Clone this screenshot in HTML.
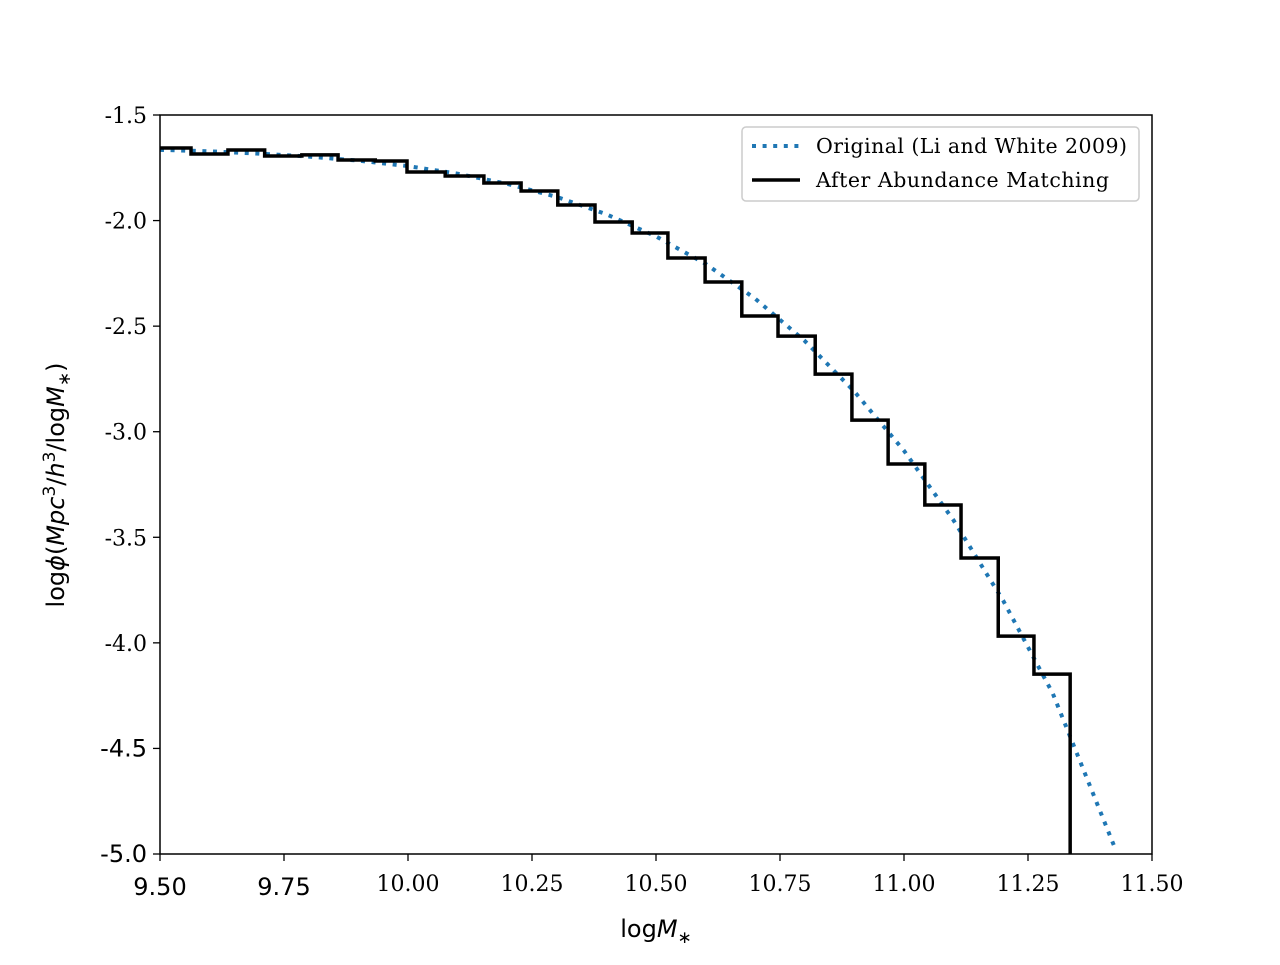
<!DOCTYPE html>
<html><head><meta charset="utf-8"><style>
body{margin:0;background:#fff}
svg text{font-family:"DejaVu Serif","Liberation Serif",serif;font-size:22px}
svg text.sans{font-family:"DejaVu Sans","Liberation Sans",sans-serif;font-size:24px}
</style></head><body>
<svg id="chart" width="1280" height="960" xmlns="http://www.w3.org/2000/svg"></svg>
<script>
const xTicks=[9.5,9.75,10,10.25,10.5,10.75,11,11.25,11.5];
const xTickLabels=["9.50","9.75","10.00","10.25","10.50","10.75","11.00","11.25","11.50"];
const xTickSans=[true,true,false,false,false,false,false,false,false];
const yTicks=[-1.5,-2,-2.5,-3,-3.5,-4,-4.5,-5];
const yTickLabels=["-1.5","-2.0","-2.5","-3.0","-3.5","-4.0","-4.5","-5.0"];
const yTickSans=[false,false,false,false,false,false,true,true];
const binEdges=[9.5,9.5625,9.637,9.711,9.786,9.859,9.934,9.998,10.075,10.153,10.228,10.302,10.377,10.452,10.524,10.599,10.673,10.746,10.821,10.895,10.968,11.042,11.115,11.190,11.262,11.335];
const binValues=[-1.656,-1.685,-1.666,-1.694,-1.689,-1.713,-1.718,-1.770,-1.789,-1.822,-1.860,-1.926,-2.007,-2.059,-2.177,-2.291,-2.452,-2.547,-2.727,-2.945,-3.153,-3.347,-3.598,-3.968,-4.148];
const origX=[9.5,9.6,9.7,9.8,9.9,10.0,10.1,10.2,10.3,10.4,10.5,10.6,10.7,10.8,10.9,11.0,11.1,11.2,11.3,11.425];
const origY=[-1.665,-1.672,-1.683,-1.697,-1.716,-1.742,-1.778,-1.826,-1.888,-1.970,-2.075,-2.205,-2.370,-2.570,-2.810,-3.090,-3.420,-3.800,-4.240,-4.970];
const NS="http://www.w3.org/2000/svg";
const svg=document.getElementById('chart');
const L=160,R=1152,T=115,B=854;
const xs=v=>L+(v-9.5)/2*(R-L);
const ys=v=>T+(-1.5-v)/3.5*(B-T);
function mk(t,a){const e=document.createElementNS(NS,t);for(const k in a)e.setAttribute(k,a[k]);svg.appendChild(e);return e;}
const defs=mk('defs',{});const cp=document.createElementNS(NS,'clipPath');cp.setAttribute('id','clip');
const cr=document.createElementNS(NS,'rect');cr.setAttribute('x',L);cr.setAttribute('y',T);cr.setAttribute('width',R-L);cr.setAttribute('height',B-T);cp.appendChild(cr);defs.appendChild(cp);
let d=origX.map((x,i)=>(i?'L':'M')+xs(x)+','+ys(origY[i])).join(' ');
let p=mk('path',{d:d,fill:'none',stroke:'#1f77b4','stroke-width':4,'stroke-dasharray':'4,6.6','clip-path':'url(#clip)'});


d='M'+xs(binEdges[0])+','+ys(binValues[0]);
for(let i=0;i<binValues.length;i++){d+=' L'+xs(binEdges[i])+','+ys(binValues[i])+' L'+xs(binEdges[i+1])+','+ys(binValues[i]);}
d+=' L'+xs(binEdges[binEdges.length-1])+','+ys(-5);
p=mk('path',{d:d,fill:'none',stroke:'#000','stroke-width':3.5,'clip-path':'url(#clip)'});


p=mk('rect',{x:L,y:T,width:R-L,height:B-T,fill:'none',stroke:'#000','stroke-width':1.5});


xTicks.forEach((v,i)=>{const x=xs(v);mk('line',{x1:x,x2:x,y1:B,y2:B+7,stroke:'#000','stroke-width':1.3});
const t=mk('text',{x:x,y:xTickSans[i]?B+41:B+37,'text-anchor':'middle'});if(xTickSans[i])t.setAttribute('class','sans');
t.textContent=xTickLabels[i];

});
yTicks.forEach((v,i)=>{const y=ys(v);mk('line',{x1:L-7,x2:L,y1:y,y2:y,stroke:'#000','stroke-width':1.3});
const t=mk('text',{x:L-13,y:y+8,'text-anchor':'end'});if(yTickSans[i])t.setAttribute('class','sans');
t.textContent=yTickLabels[i];

});
</script>
<svg style="position:absolute;left:0;top:0" width="1280" height="960" xmlns="http://www.w3.org/2000/svg">
<text x="656" y="937" text-anchor="middle" style="font-family:'DejaVu Sans',sans-serif;font-size:24px">log<tspan font-style="italic">M</tspan><tspan font-size="17" dy="6">∗</tspan></text>
<text transform="translate(64,485) rotate(-90)" text-anchor="middle" style="font-family:'DejaVu Sans',sans-serif;font-size:24px">log<tspan font-style="italic">ϕ</tspan>(<tspan font-style="italic">Mpc</tspan><tspan font-size="17" dy="-9">3</tspan><tspan dy="9">/</tspan><tspan font-style="italic">h</tspan><tspan font-size="17" dy="-9">3</tspan><tspan dy="9">/log</tspan><tspan font-style="italic">M</tspan><tspan font-size="17" dy="6">∗</tspan><tspan dy="-6">)</tspan></text>
<g>
<rect x="742" y="127" width="397" height="74" rx="4" fill="#fff" fill-opacity="0.8" stroke="#ccc" stroke-width="1.5"/>
<line x1="752" y1="146" x2="800" y2="146" stroke="#1f77b4" stroke-width="4" stroke-dasharray="4,6.6"/>
<text x="816" y="153" style="font-family:'DejaVu Serif',serif;font-size:20.5px" textLength="311">Original (Li and White 2009)</text>
<line x1="752" y1="180" x2="800" y2="180" stroke="#000" stroke-width="3.5"/>
<text x="816" y="187" style="font-family:'DejaVu Serif',serif;font-size:20.5px" textLength="293">After Abundance Matching</text>
</g>
</svg>
</body></html>
